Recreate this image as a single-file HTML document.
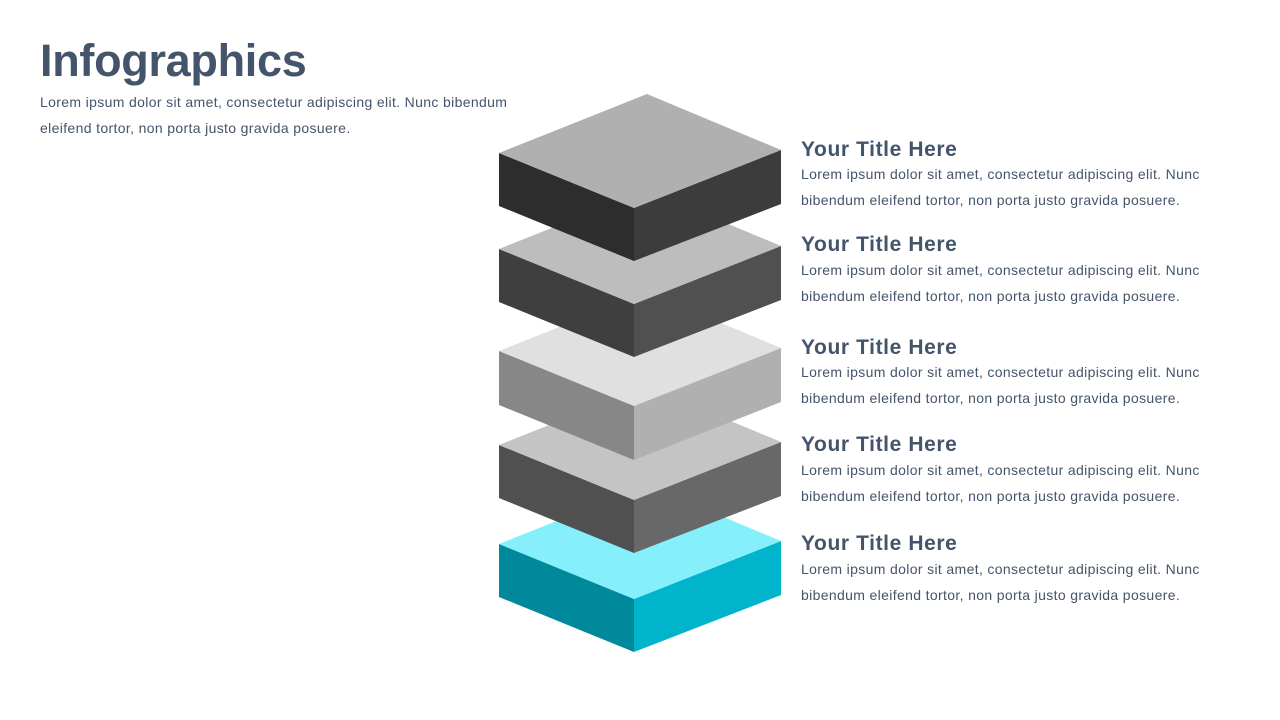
<!DOCTYPE html>
<html><head><meta charset="utf-8"><style>
body{margin:0;width:1280px;height:720px;background:#fff;overflow:hidden;position:relative;font-family:"Liberation Sans",sans-serif;color:#44546a}
.h{position:absolute;left:40px;top:35px;font-size:45px;font-weight:bold;color:#44546a;letter-spacing:-0.3px}
.s{position:absolute;left:40px;top:89px;font-size:14px;line-height:26px;color:#44546a;width:520px;letter-spacing:0.35px}
.t{position:absolute;left:801px;font-size:21px;font-weight:bold;color:#44546a;letter-spacing:0.6px}
.d{position:absolute;left:801px;font-size:14px;line-height:26px;color:#44546a;width:440px;letter-spacing:0.35px}
</style></head><body>
<div class="h">Infographics</div>
<div class="s">Lorem ipsum dolor sit amet, consectetur adipiscing elit. Nunc bibendum<br>eleifend tortor, non porta justo gravida posuere.</div>
<svg width="1280" height="720" style="position:absolute;left:0;top:0">
<g><polygon points="499,544 634,599 634,652 499,597" fill="#00899a"/><polygon points="634,599 781,541 781,595 634,652" fill="#00b4cc"/><polygon points="499,544 647,485 781,541 634,599" fill="#85f0fc"/></g>
<g><polygon points="499,445 634,500 634,553 499,498" fill="#505050"/><polygon points="634,500 781,442 781,496 634,553" fill="#686868"/><polygon points="499,445 647,386 781,442 634,500" fill="#c4c4c4"/></g>
<g><polygon points="499,351 634,406 634,460 499,405" fill="#878787"/><polygon points="634,406 781,348 781,402 634,460" fill="#b0b0b0"/><polygon points="499,351 647,292 781,348 634,406" fill="#e0e0e0"/></g>
<g><polygon points="499,249 634,304 634,357 499,302" fill="#3f3f3f"/><polygon points="634,304 781,246 781,300 634,357" fill="#505050"/><polygon points="499,249 647,190 781,246 634,304" fill="#bdbdbd"/></g>
<g><polygon points="499,153 634,208 634,261 499,206" fill="#2d2d2d"/><polygon points="634,208 781,150 781,204 634,261" fill="#3c3c3c"/><polygon points="499,153 647,94 781,150 634,208" fill="#b0b0b0"/></g>
</svg>
<div class="t" style="top:138px">Your Title Here</div>
<div class="d" style="top:161px">Lorem ipsum dolor sit amet, consectetur adipiscing elit. Nunc<br>bibendum eleifend tortor, non porta justo gravida posuere.</div>
<div class="t" style="top:233px">Your Title Here</div>
<div class="d" style="top:257px">Lorem ipsum dolor sit amet, consectetur adipiscing elit. Nunc<br>bibendum eleifend tortor, non porta justo gravida posuere.</div>
<div class="t" style="top:336px">Your Title Here</div>
<div class="d" style="top:359px">Lorem ipsum dolor sit amet, consectetur adipiscing elit. Nunc<br>bibendum eleifend tortor, non porta justo gravida posuere.</div>
<div class="t" style="top:433px">Your Title Here</div>
<div class="d" style="top:457px">Lorem ipsum dolor sit amet, consectetur adipiscing elit. Nunc<br>bibendum eleifend tortor, non porta justo gravida posuere.</div>
<div class="t" style="top:532px">Your Title Here</div>
<div class="d" style="top:556px">Lorem ipsum dolor sit amet, consectetur adipiscing elit. Nunc<br>bibendum eleifend tortor, non porta justo gravida posuere.</div>
</body></html>
